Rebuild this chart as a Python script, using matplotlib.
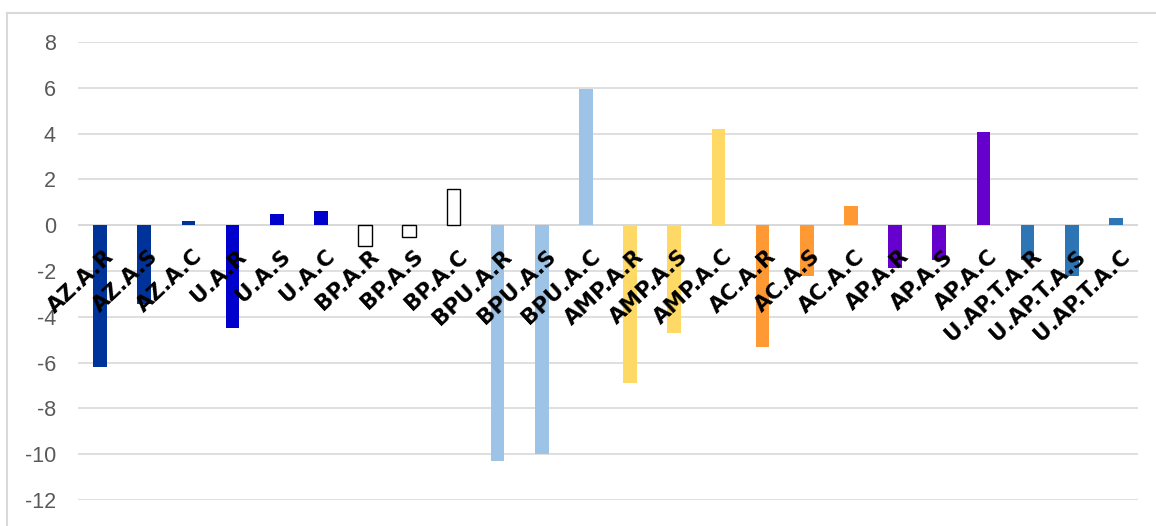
import matplotlib.pyplot as plt
from matplotlib.lines import Line2D

plt.rcParams['axes.unicode_minus'] = False

# datos
etiquetas = ['AZ.A.R', 'AZ.A.S', 'AZ.A.C', 'U.A.R', 'U.A.S', 'U.A.C',
             'BP.A.R', 'BP.A.S', 'BP.A.C', 'BPU.A.R', 'BPU.A.S', 'BPU.A.C',
             'AMP.A.R', 'AMP.A.S', 'AMP.A.C', 'AC.A.R', 'AC.A.S', 'AC.A.C',
             'AP.A.R', 'AP.A.S', 'AP.A.C', 'U.AP.T.A.R', 'U.AP.T.A.S', 'U.AP.T.A.C']
valores = [-6.2, -3.45, 0.2, -4.5, 0.5, 0.6,
           -0.9, -0.5, 1.6, -10.3, -10.0, 5.95,
           -6.9, -4.7, 4.2, -5.3, -2.2, 0.85,
           -1.85, -1.5, 4.05, -1.5, -2.2, 0.3]
# un color por grupo (3 barras cada uno)
colores_grupo = ['#003399', '#0000CC', '#FFFFFF', '#9DC3E6',
                 '#FFD966', '#FF9933', '#6600CC', '#2E75B6']
ticks_y = [-12, -10, -8, -6, -4, -2, 0, 2, 4, 6, 8]

colores = [c for c in colores_grupo for _ in range(3)]
bordes = ['black' if c == '#FFFFFF' else 'none' for c in colores]

fig = plt.figure(figsize=(11.56, 5.26), dpi=100)
ax = fig.add_axes([78/1156, 26/526, 1060/1156, 458/526])

x = list(range(len(etiquetas)))
ax.bar(x, valores, width=0.31, color=colores, edgecolor=bordes, linewidth=1.0, zorder=3)

ax.set_xlim(-0.5, len(etiquetas) - 0.5)
ax.set_ylim(-12, 8)
ax.set_yticks(ticks_y)
ax.grid(axis='y', color='#D9D9D9', linewidth=1.2, zorder=0)
ax.axhline(0, color='#D9D9D9', linewidth=1.4, zorder=1)
for s in ax.spines.values():
    s.set_visible(False)
ax.set_xticks([])
ax.tick_params(axis='y', length=0, pad=16, labelsize=15.5, labelcolor='#595959')
for t in ax.get_yticklabels():
    t.set_fontfamily(['Liberation Sans', 'DejaVu Sans'])

# etiquetas rotadas pegadas al eje cero, encima de las barras
for i, et in enumerate(etiquetas):
    ax.annotate(et, xy=(i, 0), xytext=(3, -15), textcoords='offset points',
                ha='right', va='top', rotation=43, rotation_mode='anchor',
                fontsize=15.5, fontweight='bold', family='DejaVu Sans',
                color='black', zorder=5)

# borde del área del gráfico
fig.add_artist(Line2D([6.5/1156, 6.5/1156], [0, 1 - 13/526], color='#D9D9D9', linewidth=1.5))
fig.add_artist(Line2D([6.5/1156, 1], [1 - 13/526, 1 - 13/526], color='#D9D9D9', linewidth=1.5))

fig.savefig('out.png', dpi=100)
